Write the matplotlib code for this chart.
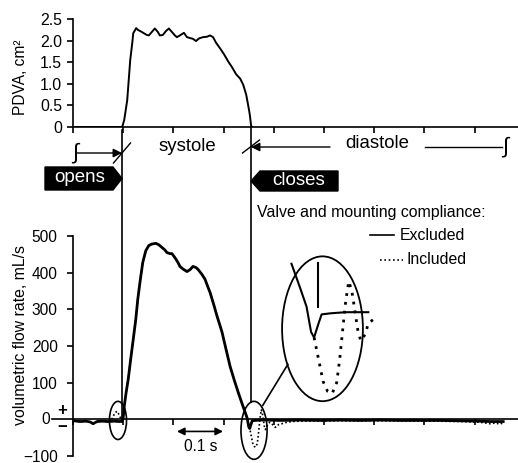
import matplotlib.pyplot as plt
from matplotlib.patches import Ellipse, Polygon
from matplotlib.lines import Line2D
from matplotlib.transforms import blended_transform_factory

plt.rcParams['font.family'] = ['Liberation Sans', 'DejaVu Sans']
plt.rcParams['font.size'] = 11.2

W, H = 518, 463

# valve timing (s)
t_open = 0.0976
t_close = 0.3546

# projected dynamic valve area, cm^2
pdva_t = [0.0, 0.094, 0.098, 0.102, 0.108, 0.114, 0.118, 0.120, 0.126, 0.129, 0.137,
          0.147, 0.151, 0.157, 0.163, 0.169, 0.173, 0.179, 0.185, 0.191, 0.197, 0.203,
          0.207, 0.213, 0.221, 0.227, 0.233, 0.239, 0.245, 0.251, 0.259, 0.267, 0.273,
          0.279, 0.285, 0.293, 0.301, 0.309, 0.317, 0.325, 0.333, 0.339, 0.345, 0.349,
          0.352, 0.355, 0.357]
pdva_val = [0.0, 0.0, 0.0, 0.16, 0.62, 1.55, 1.94, 2.17, 2.29, 2.25, 2.2,
            2.13, 2.12, 2.2, 2.28, 2.2, 2.12, 2.13, 2.22, 2.28, 2.2, 2.12,
            2.08, 2.12, 2.18, 2.08, 2.06, 2.04, 1.99, 2.05, 2.08, 2.09, 2.12,
            2.08, 1.95, 1.82, 1.68, 1.52, 1.38, 1.22, 1.12, 0.98, 0.75, 0.5,
            0.3, 0.02, 0.0]

# volumetric flow rate, mL/s -- compliance excluded (solid)
excl_t = [0.002, 0.014, 0.026, 0.034, 0.040, 0.048, 0.058, 0.070, 0.082, 0.092, 0.098,
          0.100, 0.102, 0.106, 0.110, 0.115, 0.120, 0.125, 0.129, 0.134, 0.139, 0.145,
          0.151, 0.157, 0.165, 0.171, 0.177, 0.183, 0.187, 0.193, 0.197, 0.203, 0.209,
          0.213, 0.219, 0.227, 0.233, 0.239, 0.245, 0.249, 0.257, 0.263, 0.269, 0.273,
          0.281, 0.287, 0.293, 0.297, 0.305, 0.313, 0.321, 0.329, 0.337, 0.343, 0.347,
          0.350, 0.352, 0.355, 0.357, 0.363, 0.373, 0.388, 0.412, 0.452, 0.492, 0.532,
          0.572, 0.612, 0.651, 0.691, 0.731, 0.771, 0.811, 0.831, 0.851, 0.857]
excl_q = [-4, -6, -5, -7, -12, -6, -5, -6, -5, -6, -5,
          5, 35, 75, 109, 165, 218, 272, 327, 380, 428, 460,
          474, 478, 480, 476, 469, 462, 455, 452, 452, 441, 428,
          417, 410, 403, 408, 417, 414, 409, 395, 382, 360, 346,
          310, 281, 255, 237, 190, 144, 108, 74, 42, 19, 3,
          -20, -25, -12, -4, -3, -2, -2, -3, -2, -3, -2,
          -3, -2, -3, -3, -3, -4, -5, -6, -6, -6]

# volumetric flow rate, mL/s -- compliance included (dotted)
incl_t = [0.002, 0.014, 0.026, 0.034, 0.040, 0.048, 0.058, 0.070, 0.076, 0.080, 0.084,
          0.088, 0.092, 0.096, 0.100, 0.102, 0.106, 0.110, 0.115, 0.120, 0.125, 0.129,
          0.134, 0.139, 0.145, 0.151, 0.157, 0.165, 0.171, 0.177, 0.183, 0.187, 0.193,
          0.197, 0.203, 0.209, 0.213, 0.219, 0.227, 0.233, 0.239, 0.245, 0.249, 0.257,
          0.263, 0.269, 0.273, 0.281, 0.287, 0.293, 0.297, 0.305, 0.313, 0.321, 0.329,
          0.337, 0.343, 0.347, 0.350, 0.352, 0.355, 0.358, 0.361, 0.364, 0.367, 0.369,
          0.371, 0.373, 0.375, 0.377, 0.379, 0.381, 0.383, 0.386, 0.388, 0.392, 0.396,
          0.400, 0.403, 0.406, 0.410, 0.416, 0.422, 0.428, 0.436, 0.452, 0.492, 0.532,
          0.572, 0.612, 0.651, 0.691, 0.731, 0.771, 0.811, 0.831, 0.841, 0.851, 0.857]
incl_q = [-4, -6, -5, -7, -12, -6, -5, -6, -4, 8, 18,
          22, 12, 0, 2, 35, 75, 109, 165, 218, 272, 327,
          380, 428, 460, 474, 478, 480, 476, 469, 462, 455, 452,
          452, 441, 428, 417, 410, 403, 408, 417, 414, 409, 395,
          382, 360, 346, 310, 281, 255, 237, 190, 144, 108, 74,
          42, 19, 3, -20, -25, -45, -65, -74, -76, -66, -45,
          -18, 8, 26, 18, 0, -18, -28, -22, -12, -8, -12,
          -18, -22, -18, -14, -12, -9, -8, -6, -5, -4, -4,
          -4, -4, -4, -5, -5, -6, -8, -12, -10, -13, -9]

xticks = [0.0, 0.1, 0.2, 0.3, 0.4, 0.5, 0.6, 0.7, 0.8]
pdva_ticks = [0, 0.5, 1.0, 1.5, 2.0, 2.5]
pdva_labels = ['0', '0.5', '1.0', '1.5', '2.0', '2.5']
flow_ticks = [-100, 100, 200, 300, 400, 500]
flow_labels = ['\u2212100', '100', '200', '300', '400', '500']

PX_S = 502.0            # pixels per second on the time axis
XMAX = (W - 73) / PX_S


def box(left, top, right, bottom):
    return [left / W, 1 - bottom / H, (right - left) / W, (bottom - top) / H]


def fy(p):
    return 1 - p / H


def fx(p):
    return p / W


fig = plt.figure(figsize=(W / 100, H / 100), dpi=100)

# ---- top panel: PDVA
ax1 = fig.add_axes(box(73, 19, W, 127))
ax1.plot(pdva_t, pdva_val, color='k', lw=1.4, solid_joinstyle='round')
ax1.set_xlim(0, XMAX)
ax1.set_ylim(0, 2.5)
ax1.set_yticks(pdva_ticks)
ax1.set_yticklabels(pdva_labels, fontsize=11.4)
ax1.set_xticks(xticks)
ax1.set_xticklabels([])
for s in ['top', 'right']:
    ax1.spines[s].set_visible(False)
for s in ['left', 'bottom']:
    ax1.spines[s].set_linewidth(1.2)
ax1.tick_params(axis='y', direction='out', length=4.3, width=1.2, pad=3.5)
ax1.tick_params(axis='x', direction='out', length=4, width=1.2)
ax1.patch.set_alpha(0)

# ---- bottom panel: flow rate
ax2 = fig.add_axes(box(73, 236, W, 456))
ax2.plot(excl_t, excl_q, color='k', lw=2.0, solid_joinstyle='round')
ax2.plot(incl_t, incl_q, color='k', lw=1.2, linestyle=(0, (1, 1.4)))
ax2.set_xlim(0, XMAX)
ax2.set_ylim(-100, 500)
ax2.set_yticks(flow_ticks)
ax2.set_yticklabels(flow_labels)
ax2.set_xticks(xticks)
ax2.set_xticklabels([])
for s in ['top', 'right']:
    ax2.spines[s].set_visible(False)
ax2.spines['bottom'].set_position(('data', 0))
for s in ['left', 'bottom']:
    ax2.spines[s].set_linewidth(1.2)
ax2.tick_params(axis='y', direction='out', length=4, width=1.2, pad=7)
ax2.tick_params(axis='x', direction='out', length=4, width=1.2)
ax2.patch.set_alpha(0)

# long zero tick separating the + and - signs, with its own label
ax2.plot([-21 / PX_S, 0], [0, 0], color='k', lw=1.2, clip_on=False)
ax2.text(-23 / PX_S, 0, '0', ha='right', va='center', fontsize=11.2)
ax2.text(-11 / PX_S, 23, '+', ha='center', va='center', fontsize=12, fontweight='bold')
ax2.text(-11 / PX_S, -21, '\u2212', ha='center', va='center', fontsize=12, fontweight='bold')

# 0.1 s scale arrow
ax2.annotate('', xy=(0.207, -33), xytext=(0.299, -33),
             arrowprops=dict(arrowstyle='<|-|>', color='k', lw=1.2,
                             mutation_scale=11, shrinkA=0, shrinkB=0))
ax2.text(0.255, -74, '0.1 s', ha='center', va='center', fontsize=11.2)

# ellipses
ax2.add_patch(Ellipse((0.0896, -3), 0.034, 104, fill=False, lw=1.2, clip_on=False))
ax2.add_patch(Ellipse((0.3606, -30), 0.052, 158, fill=False, lw=1.2, clip_on=False))
ax2.add_patch(Ellipse((0.497, 247), 0.161, 395, fill=False, lw=1.3, clip_on=False))
ax2.plot([0.378, 0.428], [38, 150], color='k', lw=1.2, clip_on=False)

# ---- magnified view inside the big ellipse (3x)
MAG = 3.0
ax_px, ay_px = 318, 310           # where (t_close, 0) lands
i_x0, i_x1, i_y0, i_y1 = 0.335, 0.395, -85, 50
sx = PX_S * MAG
sy = 220 / 600 * MAG
axi = fig.add_axes(box(ax_px + (i_x0 - t_close) * sx, ay_px - i_y1 * sy,
                       ax_px + (i_x1 - t_close) * sx, ay_px - i_y0 * sy))
axi.set_xlim(i_x0, i_x1)
axi.set_ylim(i_y0, i_y1)
axi.axis('off')
ex = [(t, q) for t, q in zip(excl_t, excl_q) if 0.336 <= t <= 0.389]
ix = [(t, q) for t, q in zip(incl_t, incl_q) if 0.351 <= t <= 0.392]
axi.plot([p[0] for p in ex], [p[1] for p in ex], color='k', lw=1.5, clip_on=False)
axi.plot([p[0] for p in ix], [p[1] for p in ix], color='k', lw=2.0,
         linestyle=(0, (1, 2.2)), clip_on=False)
axi.plot([t_close, t_close], [3, 43], color='k', lw=1.5)

# ---- valve open/close markers (x in time, y in figure)
tr = blended_transform_factory(ax2.transData, fig.transFigure)
fig.add_artist(Line2D([t_open, t_open], [fy(130), fy(422)], transform=tr, color='k', lw=1.2))
fig.add_artist(Line2D([t_close, t_close], [fy(127), fy(402)], transform=tr, color='k', lw=1.2))

d = 8.5 / PX_S
fig.add_artist(Line2D([t_open - d, t_open + d], [fy(163), fy(143)], transform=tr, color='k', lw=1.0))
fig.add_artist(Line2D([t_close - d, t_close + d], [fy(153), fy(140)], transform=tr, color='k', lw=1.0))

# phase arrows
fig.text(fx(75), fy(153), '\u222b', ha='center', va='center', fontsize=16)
ax2.annotate('', xy=(t_open, fy(153)), xytext=(0.008, fy(153)), xycoords=tr, textcoords=tr,
             arrowprops=dict(arrowstyle='-|>', color='k', lw=1.0, mutation_scale=13,
                             shrinkA=0, shrinkB=0))
fig.text(fx(187), fy(146), 'systole', ha='center', va='center', fontsize=13.4)
ax2.annotate('', xy=(t_close, fy(147)), xytext=(t_close + 79 / PX_S, fy(147)),
             xycoords=tr, textcoords=tr,
             arrowprops=dict(arrowstyle='-|>', color='k', lw=1.0, mutation_scale=13,
                             shrinkA=0, shrinkB=0))
fig.text(fx(377), fy(144), 'diastole', ha='center', va='center', fontsize=13.4)
fig.add_artist(Line2D([fx(425), fx(502)], [fy(147), fy(147)], color='k', lw=1.0))
fig.text(fx(505), fy(147), '\u222b', ha='center', va='center', fontsize=16)

# opens / closes tags
ho = 9 / PX_S
fig.add_artist(Polygon([(t_open - 77 / PX_S, fy(167)), (t_open - ho, fy(167)), (t_open, fy(178.5)),
                        (t_open - ho, fy(190)), (t_open - 77 / PX_S, fy(190))],
                       closed=True, transform=tr, facecolor='k', edgecolor='k'))
fig.text(fx(80), fy(178), 'opens', ha='center', va='center', color='white', fontsize=13.5)
fig.add_artist(Polygon([(t_close, fy(181)), (t_close + ho, fy(171)), (t_close + 87 / PX_S, fy(171)),
                        (t_close + 87 / PX_S, fy(191)), (t_close + ho, fy(191))],
                       closed=True, transform=tr, facecolor='k', edgecolor='k'))
fig.text(fx(299), fy(180), 'closes', ha='center', va='center', color='white', fontsize=13.5)

# legend
fig.text(fx(257), fy(213), 'Valve and mounting compliance:', ha='left', va='center', fontsize=11.4)
fig.add_artist(Line2D([fx(370), fx(394)], [fy(235), fy(235)], color='k', lw=1.2))
fig.text(fx(400), fy(235), 'Excluded', ha='left', va='center', fontsize=11.4)
fig.add_artist(Line2D([fx(380), fx(403)], [fy(260), fy(260)], color='k', lw=1.2,
                      linestyle=(0, (1, 1.6))))
fig.text(fx(406), fy(260), 'Included', ha='left', va='center', fontsize=11.4)

# axis labels
fig.text(fx(21), fy(77), 'PDVA, cm\u00b2', rotation=90, ha='center', va='center', fontsize=11.2)
fig.text(fx(21), fy(335), 'volumetric flow rate, mL/s', rotation=90, ha='center', va='center',
         fontsize=11.4)

fig.savefig('out.png', dpi=100)
